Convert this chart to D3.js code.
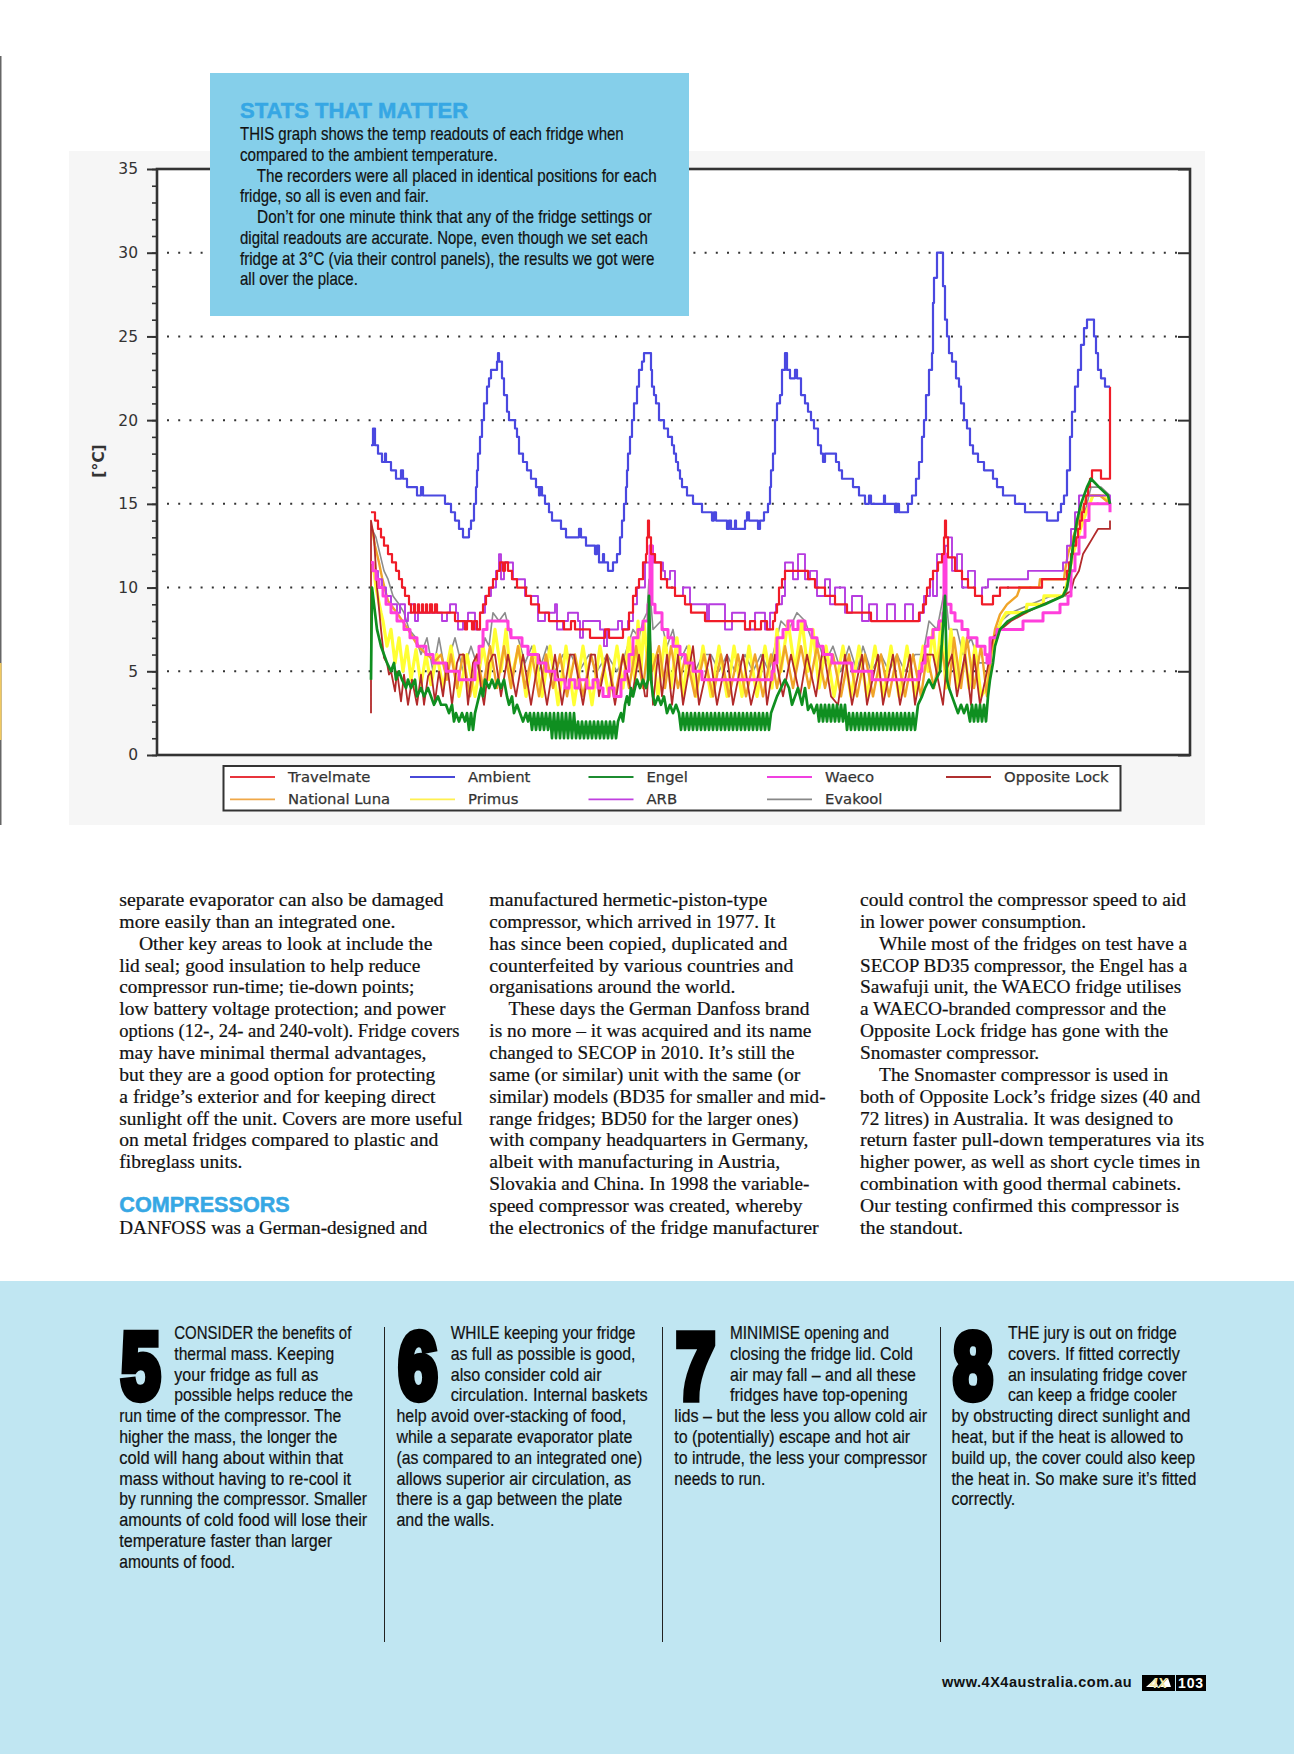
<!DOCTYPE html>
<html>
<head>
<meta charset="utf-8">
<script src="https://d3js.org/d3.v7.min.js"></script>
<style>
  html, body { margin: 0; padding: 0; background: #fff; }
  svg { display: block; }
</style>
</head>
<body>
<svg id="page" width="1294" height="1754"></svg>
<script>
// readings, [sample, deg C]
const ambient = [[0,18.5],[2,19.5],[4,18.5],[7,18],[11,17.5],[14,18],[15,17.5],[20,17],[25,16.5],[30,17],[32,16.5],[36,16],[44,16],[46,15.5],[50,16],[52,15.5],[74,15],[80,14.5],[84,14],[88,13.5],[92,13],[98,13.5],[100,14],[103,15],[105,16],[106,17],[107,18],[109,19],[111,20],[113,21],[116,22],[118,22.5],[120,23],[126,23.5],[127,24],[128,23.5],[131,22.5],[133,21.5],[136,20.5],[138,20],[144,19.5],[146,19],[148,18],[152,17.5],[156,17],[160,16.5],[165,16],[168,15.5],[169,16],[171,15.5],[174,15],[178,14.5],[181,14],[190,13.5],[195,13],[204,13],[208,13.5],[210,13],[215,12.5],[224,12],[226,12.5],[228,11.5],[232,12],[233,11.5],[237,11],[241,11],[242,11.5],[246,12],[249,13],[251,14],[253,15],[255,16],[256,17],[257,18],[259,19],[261,20],[263,21],[266,22],[268,23],[271,23.5],[273,24],[280,23],[281,22],[283,21.5],[285,21],[288,20],[293,19.5],[297,19],[301,18.5],[303,18],[305,17.5],[307,17],[309,16.5],[311,16],[316,15.5],[322,15],[331,14.5],[341,14],[343,14.5],[345,14],[356,13.5],[358,14],[360,13.5],[364,14],[365,13.5],[370,13.5],[374,14],[376,14.5],[378,14],[387,13.5],[389,14],[393,14.5],[397,15],[399,16],[400,17],[402,18],[404,20],[406,21],[409,21.5],[411,23],[414,24],[416,23],[419,22.5],[422,22.5],[424,23],[426,22.5],[430,21.5],[434,21],[437,20.5],[440,20],[443,19.5],[447,18.5],[450,18],[452,17.5],[454,18],[465,17.5],[468,17],[471,16.5],[476,16.5],[482,16],[488,15.5],[491,15.5],[494,15],[498,15.5],[500,15],[513,15.5],[514,15],[524,14.5],[526,15],[528,14.5],[537,15],[541,15.5],[545,16.5],[548,17.5],[551,19],[553,20],[555,21.5],[558,23],[561,24],[562,27],[563,28.5],[566,30],[572,28],[574,26],[576,25],[578,24],[581,23.5],[585,22.5],[588,22],[590,21],[593,20],[596,19.5],[599,18.5],[602,18],[607,17.5],[613,17],[622,16.5],[626,16],[632,15.5],[644,15],[654,14.5],[676,14],[687,14.5],[690,15],[693,15.5],[696,17],[699,19],[701,20.5],[704,22],[707,23],[710,24.5],[713,25.5],[716,26],[723,25],[725,24],[727,23],[730,22.5],[734,22],[739,22]];

const travelmate = [[0,14.5],[4,14],[7,13.5],[10,13],[13,12.5],[17,12],[21,11.5],[25,11],[28,10.5],[31,10],[34,9.5],[38,9],[40,8.5],[43,9],[44,8.5],[47,9],[48,8.5],[51,9],[52,8.5],[55,9],[56,8.5],[59,9],[61,8.5],[64,9],[66,8.5],[84,8],[94,7.5],[96,8],[101,7.5],[103,8],[106,7.5],[109,8.5],[112,9],[115,9.5],[118,10],[122,10.5],[126,11],[129,11.5],[132,11],[134,11.5],[137,11],[141,10.5],[146,10],[155,9.5],[160,9],[168,8.5],[178,8],[193,7.5],[200,8],[204,7.5],[219,7],[234,7.5],[238,7],[252,7.5],[258,8.5],[262,9.5],[265,10],[268,10.5],[272,11.5],[275,12],[276,13],[277,14],[278,13],[280,12],[284,11.5],[290,10.5],[296,10],[304,9.5],[314,9],[320,8.5],[334,8],[374,7.5],[379,8],[384,7.5],[390,8],[396,7.5],[402,8],[404,8.5],[406,9],[408,10],[411,10.5],[414,11],[434,11],[437,10.5],[444,10],[454,9.5],[464,9],[476,8.5],[500,8],[548,8.5],[552,9],[555,9.5],[556,10],[559,10.5],[562,11],[567,11.5],[571,12],[573,13],[574,14],[575,13],[577,11.8],[584,11],[591,10.5],[597,10],[604,9.5],[611,9],[622,9.5],[629,10],[671,10.5],[692,10.5],[696,11],[698,11.5],[700,12],[702,12.5],[705,13],[707,13.5],[709,14],[711,14.5],[713,15],[715,15.5],[717,16],[719,16.5],[721,17],[730,16.5],[739,16.5],[739,22]];

const arb = [[4,11],[7,10.5],[11,10],[15,9.5],[20,9],[26,8.5],[29,9],[34,8],[37,8.5],[40,9],[44,8],[47,8.5],[71,8],[76,8.5],[79,9],[85,8.5],[87,7.5],[92,8],[97,8.5],[104,7.5],[109,8.5],[114,9.5],[120,10],[125,11],[128,12],[130,10.5],[133,11.5],[142,10.5],[149,10.5],[154,9.5],[161,9.5],[167,8],[174,8.5],[184,9],[186,7.5],[192,8],[197,8.5],[207,8],[209,7],[212,8],[229,7.5],[233,6.5],[236,7.5],[247,8],[251,7.5],[257,8],[262,9],[266,10],[274,11.5],[280,12.5],[282,11.5],[292,11],[294,10.5],[299,11],[304,9.5],[312,10],[319,9],[336,8],[338,9],[354,7.5],[361,8.5],[374,7.5],[384,8.5],[394,7.5],[399,8.5],[405,9],[411,9.5],[414,11.5],[422,10.5],[427,12],[434,10.5],[439,11],[446,9.5],[454,10.5],[459,9],[464,10],[474,8.5],[481,9.5],[491,8],[498,9],[506,8],[516,9],[524,8],[534,9],[542,8],[549,8.5],[553,9.5],[559,10.5],[562,9.5],[566,12],[574,12.5],[577,13],[581,11],[586,12],[591,10],[597,11],[604,9.5],[611,10],[617,10.5],[657,11],[692,11.5],[696,12.5],[700,13.5],[704,14.5],[708,15.5],[718,15.5],[739,15]];

const waeco = [[0,11.5],[2,11],[5,10.5],[8,10],[12,9.5],[15,9],[20,8.5],[26,8],[33,7.5],[39,7],[46,6.5],[55,6],[62,5.5],[75,5],[88,4.5],[104,5.5],[108,6.5],[112,7.5],[116,8],[137,7.5],[140,7],[151,6.5],[157,6],[167,5.5],[175,5],[184,4.5],[194,4],[198,4.5],[204,4],[208,4.5],[216,4],[222,4.5],[227,4],[232,3.5],[238,4],[243,3.5],[250,4.5],[254,5],[258,6],[262,7],[267,7.5],[272,8],[277,9],[279,12.5],[281,9],[284,8.5],[291,7.5],[297,7],[302,6.5],[309,6],[314,5.5],[322,5],[331,4.5],[401,5],[403,5.5],[406,7],[412,7.5],[417,8],[422,7.5],[427,8],[434,7.5],[441,7],[446,6.5],[452,6],[461,5.5],[481,5],[501,4.5],[548,5],[551,5.5],[554,6.5],[557,7],[562,7.5],[568,8],[572,8.5],[573,12],[575,9],[580,8.5],[584,8],[591,7.5],[597,7],[606,6.5],[614,6],[616,5.5],[619,7],[626,7.5],[652,8],[672,8.5],[689,9],[697,9.5],[700,11],[704,12],[708,13],[714,14],[718,15],[736,15],[739,14.5]];

const engel = [[0,4.5],[1,10],[2,9.5],[4,8.5],[6,7.5],[8,7],[10,6.5],[13,6],[16,5.5],[20,5],[23,5.5],[25,4.5],[28,5],[31,4.5],[35,4],[37,4.5],[40,4],[44,4.5],[46,3.5],[50,4],[53,3.5],[57,4],[60,3.5],[63,3],[67,3.5],[70,3],[75,3],[78,2.5],[81,3],[83,2],[85,2.5],[88,2],[91,2.5],[94,2],[96,2.5],[98,1.5],[100,2.5],[102,1.5],[104,2.5],[106,3],[108,3.5],[110,4],[112,3.5],[114,4.5],[118,4],[121,4.5],[124,4],[127,4.5],[130,4],[133,4.5],[136,3.5],[138,3],[141,3.5],[143,2.5],[146,3],[149,2.5],[152,2],[155,2.5],[157,2],[159,2.5],[161,1.5],[163,2.5],[165,1.5],[167,2.5],[169,1.5],[171,2.5],[173,1.5],[175,2.5],[177,1.5],[179,2.5],[181,1],[183,2.5],[185,1],[187,2.5],[189,1],[191,2.5],[193,1],[195,2.5],[197,1],[199,2.5],[201,1],[203,2.5],[205,1],[207,2],[209,1],[211,2],[213,1],[215,2],[217,1],[219,2],[221,1],[223,2],[225,1],[227,2],[229,1],[231,2],[233,1],[235,2],[237,1],[239,2],[241,1],[243,2],[245,1],[247,2],[250,2.5],[252,2],[254,3],[256,3.5],[258,3],[260,4],[262,3.5],[264,4],[266,4.5],[269,4],[272,4.5],[275,4],[277,4.5],[278,9.5],[280,4.5],[282,3.5],[284,3],[287,3.5],[290,3],[293,3.5],[296,2.5],[299,3],[302,2.5],[305,3],[308,2.5],[310,1.5],[312,2.5],[314,1.5],[316,2.5],[318,1.5],[320,2.5],[322,1.5],[324,2.5],[326,1.5],[328,2.5],[330,1.5],[332,2.5],[334,1.5],[336,2.5],[338,1.5],[340,2.5],[342,1.5],[344,2.5],[346,1.5],[348,2.5],[350,1.5],[352,2.5],[354,1.5],[356,2.5],[358,1.5],[360,2.5],[362,1.5],[364,2.5],[366,1.5],[368,2.5],[370,1.5],[372,2.5],[374,1.5],[376,2.5],[378,1.5],[380,2.5],[382,1.5],[384,2.5],[386,1.5],[388,2.5],[390,1.5],[392,2.5],[394,1.5],[396,2.5],[398,1.5],[400,2.5],[403,3],[406,3.5],[410,4],[414,4.5],[418,4],[421,3],[424,3.5],[427,4],[431,3],[434,4],[437,2.7],[440,3],[443,2.5],[446,3],[448,2],[450,3],[452,2],[454,3],[456,2],[458,3],[460,2],[462,3],[464,2],[466,3],[468,2],[470,3],[472,2],[474,3],[476,1.5],[478,2.5],[480,1.5],[482,2.5],[484,1.5],[486,2.5],[488,1.5],[490,2.5],[492,1.5],[494,2.5],[496,1.5],[498,2.5],[500,1.5],[502,2.5],[504,1.5],[506,2.5],[508,1.5],[510,2.5],[512,1.5],[514,2.5],[516,1.5],[518,2.5],[520,1.5],[522,2.5],[524,1.5],[526,2.5],[528,1.5],[530,2.5],[532,1.5],[534,2.5],[536,1.5],[538,2.5],[540,1.5],[542,2.5],[544,1.5],[547,3],[551,3.5],[554,4],[558,4.5],[562,4],[565,4.5],[569,5],[574,9.5],[576,4.5],[578,4],[581,3.5],[584,3],[587,2.5],[590,3],[593,2.5],[596,3],[599,2],[601,3],[603,2],[605,3],[607,2],[609,3],[611,2],[613,3],[615,2],[617,3.5],[619,4.5],[622,5.5],[624,6.5],[629,7.5],[637,8],[652,8.5],[674,9],[692,9.5],[696,10],[699,11],[702,12.5],[706,14],[710,15],[716,16],[720,16.5],[728,16],[737,15.5],[739,15]];

const nationalLuna = [[1,13.5],[4,12.5],[8,11.5],[11,10.6],[17,9.2],[22,8.8],[27,8.4],[37,7.5],[47,6.5],[56,6],[64,5.6],[70,6],[76,4.5],[80,6],[86,4],[92,6],[99,3.5],[106,6],[112,4],[119,6.5],[126,4],[133,6.5],[140,4],[147,6.5],[154,4],[161,6],[168,3.5],[175,6],[182,4],[189,6],[196,3.5],[204,6],[212,3.5],[220,6],[228,4],[236,6],[244,3.5],[252,6],[258,4],[265,6.5],[272,4],[277,6.5],[281,5],[288,6.5],[294,4],[300,6.5],[307,4],[315,6],[324,3.5],[333,6],[342,3.5],[350,6],[358,3.5],[367,6],[375,3.5],[384,6],[392,3.5],[400,6],[406,4],[414,6.5],[422,4],[430,6.5],[438,4],[446,6.5],[454,4],[462,6],[470,3.5],[478,6],[486,3.5],[494,6],[502,3.5],[510,6],[518,3.5],[526,6],[534,3.5],[542,6],[550,3.5],[556,6],[563,4],[570,6.5],[578,4],[583,7],[590,4],[596,7],[603,4],[610,6.5],[616,3.5],[620,6],[624,7.5],[629,8.4],[636,9],[646,9.5],[649,10],[668,10],[669,10.5],[693,10.5],[694,11],[697,12],[702,13],[708,14],[716,15.5],[729,15.5],[739,15]];

const primus = [[2,11.5],[5,10],[10,8.5],[12,8],[16,6.5],[20,7.5],[24,5.5],[28,7],[32,5],[36,6.5],[40,4.5],[45,6.3],[50,4.2],[55,6],[60,4.2],[66,6],[72,4],[80,6.5],[88,3.5],[96,6],[104,3.5],[112,6.5],[118,4.5],[124,7.5],[130,5],[135,7.5],[140,4.5],[148,6.5],[155,3.5],[163,6.5],[171,3.5],[179,6.5],[187,3],[195,6.5],[203,3],[212,6.5],[221,3],[229,6.5],[238,3.5],[246,6.5],[252,4],[258,7],[264,4.5],[267,8],[270,5],[273,8],[278,4.5],[282,6],[287,3.5],[294,7],[300,4],[306,7],[312,3.5],[318,6.5],[325,3.5],[332,6.5],[340,3.5],[348,6.5],[356,3.5],[363,6.5],[371,3.5],[378,6.5],[386,3.5],[394,6.5],[401,4],[406,7.5],[410,5],[417,8],[424,5],[431,8],[437,5],[442,7.5],[448,4],[455,6.5],[463,3.5],[472,6.5],[480,3.5],[488,6.5],[496,3.5],[504,6.5],[512,3.5],[520,6.5],[528,3.5],[536,6.5],[544,3.5],[552,6.5],[557,5],[562,7.5],[566,5],[570,8],[575,4],[580,7.5],[586,4],[592,7],[598,4],[604,6.5],[610,3.5],[616,4],[620,6],[625,7],[630,8],[635,8.5],[655,8.5],[656,9],[672,9],[673,9.5],[692,9.5],[695,10],[702,12],[712,14],[722,15.5],[732,15.5],[739,15]];

const evakool = [[1,13.5],[5,13],[9,12],[13,11],[17,10.5],[22,9.5],[28,9],[33,8.5],[38,7.5],[45,7],[50,6],[56,7],[62,5],[68,7],[74,5],[84,7],[92,5],[100,6.5],[108,5],[114,7],[118,6.5],[122,8.5],[128,8],[134,8.5],[140,7],[147,7],[154,5.5],[161,6.5],[168,5],[176,6.5],[184,5],[192,6],[200,6],[208,5],[218,6],[226,5],[236,6],[246,5],[254,6],[262,7.5],[268,7],[272,8],[276,8.5],[278,10.5],[282,7.5],[290,8],[296,6.5],[302,7.5],[308,5.5],[316,6.5],[324,5],[332,6],[340,6],[348,5],[356,6],[364,5],[374,6],[382,5],[390,6],[398,5],[404,6.5],[410,8],[418,7.5],[426,8.5],[434,8],[440,7],[446,7],[454,5.5],[462,6.5],[470,5],[478,6.5],[486,5],[492,6.5],[500,5],[510,6],[518,5],[526,6],[534,5],[544,6],[552,6],[558,8],[566,7.5],[574,10],[578,7.5],[586,7.5],[592,6],[600,7],[608,5.5],[616,5.5],[622,7],[630,8],[640,8.5],[660,9],[680,9.5],[695,9.5],[702,12],[712,14],[720,16],[730,16],[739,15.5]];

const oppositeLock = [[0,2.5],[0,14],[3,13],[6,10],[10,7.5],[13,5.8],[16,5.5],[18,4.8],[20,5],[24,3.8],[26,5],[30,3.2],[33,4.8],[37,3],[41,4.5],[46,3],[50,4.8],[53,3],[57,4.7],[60,5],[64,3.2],[68,5],[72,3.5],[76,5.5],[81,3],[86,5.5],[89,6],[93,6],[97,3],[102,5.5],[106,6],[110,4],[113,3],[118,5.5],[122,6],[124,6],[130,3.5],[137,6],[145,3.5],[152,6],[160,3],[168,6],[176,3],[184,6],[191,3],[199,6],[203,6],[212,3],[220,6],[224,6],[228,3.5],[236,6],[244,3],[252,6],[261,3.5],[268,6],[274,3.5],[276,3.5],[279,7],[282,3],[287,6],[291,3.5],[296,6],[301,3],[307,6],[312,3],[322,6.5],[328,3],[339,6],[346,3],[356,6],[362,3],[372,6],[380,3],[392,6],[396,3],[404,6],[412,3.5],[420,6],[429,3.5],[436,6],[445,3.5],[452,6.5],[460,3.5],[467,3],[474,6],[481,3],[491,6],[496,3],[507,6],[512,3],[522,6],[529,3],[539,6],[544,3],[553,6],[562,6],[572,3],[575,5],[581,6],[586,3.5],[594,6],[600,3],[603,6],[609,3],[616,5],[622,7],[630,7.5],[640,8],[655,8.5],[672,9],[692,9.5],[700,9.8],[703,10.5],[708,11],[712,12],[717,12.5],[722,13],[727,13.5],[739,13.5],[739,14]];

const tempTicks = [0, 5, 10, 15, 20, 25, 30, 35];

// drawn bottom to top, step=true for the flat logger steps
const seriesList = [
  { name: "Evakool", data: evakool, color: "#8c8c8c", w: 1.6, step: false },
  { name: "Primus", data: primus, color: "#ffff33", w: 3.2, step: false },
  { name: "National Luna", data: nationalLuna, color: "#f0a428", w: 2.4, step: false },
  { name: "Opposite Lock", data: oppositeLock, color: "#b22a2a", w: 1.8, step: false },
  { name: "ARB", data: arb, color: "#b63ce0", w: 1.9, step: true },
  { name: "Waeco", data: waeco, color: "#ff3fdc", w: 3, step: true },
  { name: "Travelmate", data: travelmate, color: "#f01c28", w: 2.2, step: true },
  { name: "Ambient", data: ambient, color: "#4a48e0", w: 2.2, step: true },
  { name: "Engel", data: engel, color: "#0f8f20", w: 2.7, step: false }
];

const legendRows = [
  [["Travelmate", "#e8343c"], ["Ambient", "#4848d8"], ["Engel", "#1c8c30"], ["Waeco", "#f040e0"], ["Opposite Lock", "#b03030"]],
  [["National Luna", "#f0a848"], ["Primus", "#fff050"], ["ARB", "#c040e0"], ["Evakool", "#888888"]]
];

const statsTitle = "STATS THAT MATTER";
const statsLines = [
  "THIS graph shows the temp readouts of each fridge when",
  "compared to the ambient temperature.",
  "    The recorders were all placed in identical positions for each",
  "fridge, so all is even and fair.",
  "    Don\u2019t for one minute think that any of the fridge settings or",
  "digital readouts are accurate. Nope, even though we set each",
  "fridge at 3\u00b0C (via their control panels), the results we got were",
  "all over the place."
];
const statsWidths = [384, 258, 417, 189, 412, 408, 415, 118];

const bodyCol1 = ["separate evaporator can also be damaged", "more easily than an integrated one.", "    Other key areas to look at include the", "lid seal; good insulation to help reduce", "compressor run-time; tie-down points;", "low battery voltage protection; and power", "options (12-, 24- and 240-volt). Fridge covers", "may have minimal thermal advantages,", "but they are a good option for protecting", "a fridge\u2019s exterior and for keeping direct", "sunlight off the unit. Covers are more useful", "on metal fridges compared to plastic and", "fibreglass units."];
const bodyCol1Widths = [324, 276, 313, 301, 295, 326, 340, 307, 316, 316, 343, 319, 123];
const bodyCol2 = ["manufactured hermetic-piston-type", "compressor, which arrived in 1977. It", "has since been copied, duplicated and", "counterfeited by various countries and", "organisations around the world.", "    These days the German Danfoss brand", "is no more \u2013 it was acquired and its name", "changed to SECOP in 2010. It\u2019s still the", "same (or similar) unit with the same (or", "similar) models (BD35 for smaller and mid-", "range fridges; BD50 for the larger ones)", "with company headquarters in Germany,", "albeit with manufacturing in Austria,", "Slovakia and China. In 1998 the variable-", "speed compressor was created, whereby", "the electronics of the fridge manufacturer"];
const bodyCol2Widths = [278, 286, 298, 304, 246, 320, 322, 305, 311, 336, 309, 319, 291, 320, 313, 329];
const bodyCol3 = ["could control the compressor speed to aid", "in lower power consumption.", "    While most of the fridges on test have a", "SECOP BD35 compressor, the Engel has a", "Sawafuji unit, the WAECO fridge utilises", "a WAECO-branded compressor and the", "Opposite Lock fridge has gone with the", "Snomaster compressor.", "    The Snomaster compressor is used in", "both of Opposite Lock\u2019s fridge sizes (40 and", "72 litres) in Australia. It was designed to", "return faster pull-down temperatures via its", "higher power, as well as short cycle times in", "combination with good thermal cabinets.", "Our testing confirmed this compressor is", "the standout."];
const bodyCol3Widths = [326, 226, 327, 327, 321, 306, 308, 179, 308, 340, 313, 344, 340, 321, 319, 103];

const tips = [
  { num: "5", inset: ["CONSIDER the benefits of", "thermal mass. Keeping", "your fridge as full as", "possible helps reduce the"], insetW: [177, 160, 144, 179],
    full: ["run time of the compressor. The", "higher the mass, the longer the", "cold will hang about within that", "mass without having to re-cool it", "by running the compressor. Smaller", "amounts of cold food will lose their", "temperature faster than larger", "amounts of food."], fullW: [222, 218, 224, 232, 248, 248, 213, 116] },
  { num: "6", inset: ["WHILE keeping your fridge", "as full as possible is good,", "also consider cold air", "circulation. Internal baskets"], insetW: [185, 185, 151, 197],
    full: ["help avoid over-stacking of food,", "while a separate evaporator plate", "(as compared to an integrated one)", "allows superior air circulation, as", "there is a gap between the plate", "and the walls."], fullW: [230, 236, 246, 235, 226, 98] },
  { num: "7", inset: ["MINIMISE opening and", "closing the fridge lid. Cold", "air may fall \u2013 and all these", "fridges have top-opening"], insetW: [159, 183, 186, 178],
    full: ["lids \u2013 but the less you allow cold air", "to (potentially) escape and hot air", "to intrude, the less your compressor", "needs to run."], fullW: [253, 236, 253, 91] },
  { num: "8", inset: ["THE jury is out on fridge", "covers. If fitted correctly", "an insulating fridge cover", "can keep a fridge cooler"], insetW: [169, 172, 179, 169],
    full: ["by obstructing direct sunlight and", "heat, but if the heat is allowed to", "build up, the cover could also keep", "the heat in. So make sure it\u2019s fitted", "correctly."], fullW: [239, 232, 244, 245, 64] }
];

const svg = d3.select("#page");
const NARROW = "'Liberation Sans Narrow','Liberation Sans',sans-serif";
const SERIF = "'Liberation Serif',serif";

// each line is squeezed to the width it has on the page, the magazine fonts are not installed
function textBlock(parent, lines, widths, x, y, dy, size, family) {
  const g = parent.append("g").attr("transform", `translate(${x},${y})`);
  g.selectAll("text").data(lines).enter().append("text")
    .attr("xml:space", "preserve")
    .style("white-space", "pre")
    .attr("font-family", family)
    .attr("font-size", size)
    .attr("fill", "#111")
    .attr("stroke", "#111")
    .attr("stroke-width", 0.2)
    .text(d => d)
    .attr("transform", function(d, i) {
      return `translate(0,${i * dy}) scale(${widths[i] / this.getComputedTextLength()},1)`;
    });
  return g;
}

// left page edge, bleed from the facing page
svg.append("rect").attr("x", 0).attr("y", 56).attr("width", 1.5).attr("height", 769).attr("fill", "#666");
svg.append("rect").attr("x", 0).attr("y", 663).attr("width", 1.5).attr("height", 77).attr("fill", "#f0c860");

// chart panel
const plot = { left: 157, right: 1190, top: 169, bottom: 755 };
svg.append("rect").attr("x", 69).attr("y", 151).attr("width", 1136).attr("height", 674).attr("fill", "#f6f6f6");
svg.append("rect").attr("x", plot.left).attr("y", plot.top)
  .attr("width", plot.right - plot.left).attr("height", plot.bottom - plot.top).attr("fill", "#fff");

const x = d3.scaleLinear().domain([-214, 819]).range([plot.left, plot.right]);
const y = d3.scaleLinear().domain([0, 35]).range([plot.bottom, plot.top]);

// dotted grid
svg.append("g").selectAll("line").data(tempTicks.filter(d => d > 0 && d < 35)).enter().append("line")
  .attr("x1", plot.left + 10).attr("x2", plot.right - 12)
  .attr("y1", d => y(d)).attr("y2", d => y(d))
  .attr("stroke", "#333").attr("stroke-width", 2).attr("stroke-dasharray", "2 9.2");

// series
const lineStep = d3.line().x(d => x(d[0])).y(d => y(d[1])).curve(d3.curveStepAfter);
const lineFlat = d3.line().x(d => x(d[0])).y(d => y(d[1]));
svg.append("g").attr("class", "series").style("filter", "blur(0.35px)")
  .selectAll("path").data(seriesList).enter().append("path")
  .attr("d", s => (s.step ? lineStep : lineFlat)(s.data))
  .attr("fill", "none")
  .attr("stroke", s => s.color)
  .attr("stroke-width", s => s.w)
  .attr("stroke-linejoin", "round");

// frame and axes
svg.append("rect").attr("x", plot.left).attr("y", plot.top)
  .attr("width", plot.right - plot.left).attr("height", plot.bottom - plot.top)
  .attr("fill", "none").attr("stroke", "#333").attr("stroke-width", 2.6);

const axisG = svg.append("g").attr("transform", `translate(${plot.left},0)`);
axisG.call(d3.axisLeft(y).tickValues(tempTicks).tickSize(10).tickPadding(9).tickFormat(d3.format("d")));
axisG.select(".domain").remove();
axisG.selectAll("line").attr("stroke", "#333").attr("stroke-width", 2);
axisG.selectAll("text").attr("font-family", "'DejaVu Sans',sans-serif").attr("font-size", 15.5).attr("fill", "#333");

svg.append("g").attr("transform", `translate(${plot.left},0)`)
  .call(d3.axisLeft(y).ticks(35).tickSize(5).tickFormat(""))
  .call(g => g.select(".domain").remove())
  .selectAll("line").attr("stroke", "#333").attr("stroke-width", 1.6);

svg.append("g").attr("transform", `translate(${plot.right},0)`)
  .call(d3.axisLeft(y).tickValues(tempTicks).tickSize(12).tickFormat(""))
  .call(g => g.select(".domain").remove())
  .selectAll("line").attr("stroke", "#333").attr("stroke-width", 2);

svg.append("text").attr("transform", "translate(104,461) rotate(-90)")
  .attr("text-anchor", "middle").attr("font-family", "'DejaVu Sans',sans-serif")
  .attr("font-weight", "bold").attr("font-size", 15.5).attr("fill", "#333").text("[\u00b0C]");

// legend
svg.append("rect").attr("x", 223.5).attr("y", 766).attr("width", 897).attr("height", 44.5)
  .attr("fill", "#fff").attr("stroke", "#333").attr("stroke-width", 2);
const legendCols = [230, 410, 588.5, 767, 946];
legendRows.forEach((row, r) => {
  const ly = 777 + r * 22.3;
  row.forEach((item, c) => {
    svg.append("line").attr("x1", legendCols[c]).attr("x2", legendCols[c] + 45)
      .attr("y1", ly).attr("y2", ly).attr("stroke", item[1]).attr("stroke-width", 1.8);
    svg.append("text").attr("x", legendCols[c] + 58).attr("y", ly + 5)
      .attr("font-family", "'DejaVu Sans',sans-serif").attr("font-size", 14.8).attr("fill", "#333")
      .attr("stroke", "#333").attr("stroke-width", 0.25).text(item[0]);
  });
});

// stats box sits over the chart
svg.append("rect").attr("x", 210).attr("y", 73).attr("width", 479).attr("height", 243).attr("fill", "#85cfea");
svg.append("text").attr("x", 240).attr("y", 118)
  .attr("font-family", "'Liberation Sans',sans-serif").attr("font-weight", "bold").attr("font-size", 22)
  .attr("fill", "#36a7e4").attr("stroke", "#36a7e4").attr("stroke-width", 0.5).text(statsTitle);
textBlock(svg, statsLines, statsWidths, 240, 140, 20.75, 18, NARROW);

// body copy
textBlock(svg, bodyCol1, bodyCol1Widths, 119.3, 906, 21.85, 17.8, SERIF);
textBlock(svg, bodyCol2, bodyCol2Widths, 489.3, 906, 21.85, 17.8, SERIF);
textBlock(svg, bodyCol3, bodyCol3Widths, 860, 906, 21.85, 17.8, SERIF);
svg.append("text").attr("x", 119.3).attr("y", 1212)
  .attr("font-family", "'Liberation Sans',sans-serif").attr("font-weight", "bold").attr("font-size", 21.6)
  .attr("fill", "#36a7e4").attr("stroke", "#36a7e4").attr("stroke-width", 0.5).text("COMPRESSORS");
textBlock(svg, ["DANFOSS was a German-designed and"], [308], 119.3, 1234, 21.85, 17.8, SERIF);

// tips band
svg.append("rect").attr("x", 0).attr("y", 1281).attr("width", 1294).attr("height", 473).attr("fill", "#c0e6f2");
const tipX = [119.3, 396.4, 674.3, 951.4];
const insetX = [174.3, 450.7, 730, 1007.9];
tips.forEach((tip, i) => {
  svg.append("text").attr("font-family", "'Liberation Sans',sans-serif").attr("font-weight", "bold")
    .attr("font-size", 100).attr("fill", "#000").attr("stroke", "#000").attr("stroke-width", 9)
    .attr("stroke-linejoin", "miter")
    .attr("transform", `translate(${tipX[i] + 2},1398) scale(0.7,0.93)`).text(tip.num);
  textBlock(svg, tip.inset, tip.insetW, insetX[i], 1339, 20.8, 18, NARROW);
  textBlock(svg, tip.full, tip.fullW, tipX[i], 1339 + 4 * 20.8, 20.8, 18, NARROW);
});
[384, 662, 940].forEach(d => {
  svg.append("line").attr("x1", d + 0.5).attr("x2", d + 0.5).attr("y1", 1327).attr("y2", 1642)
    .attr("stroke", "#222").attr("stroke-width", 1);
});

// folio
svg.append("text").attr("x", 942).attr("y", 1687)
  .attr("font-family", "'Liberation Sans',sans-serif").attr("font-weight", "bold").attr("font-size", 14.5)
  .attr("letter-spacing", 0.55).attr("fill", "#111").text("www.4X4australia.com.au");
svg.append("rect").attr("x", 1142).attr("y", 1675).attr("width", 33).attr("height", 16).attr("fill", "#000");
svg.append("rect").attr("x", 1176).attr("y", 1675).attr("width", 30).attr("height", 16).attr("fill", "#000");
svg.append("path").attr("d", "M1146 1687 L1155 1679 L1158 1687 Z M1160 1687 L1168 1678 L1171 1687 Z").attr("fill", "#fff");
svg.append("text").attr("x", 1158.5).attr("y", 1688).attr("text-anchor", "middle")
  .attr("font-family", "'Liberation Sans',sans-serif").attr("font-weight", "bold").attr("font-style", "italic")
  .attr("font-size", 14).attr("fill", "#f4e8a8").text("4X");
svg.append("text").attr("x", 1191).attr("y", 1688).attr("text-anchor", "middle")
  .attr("font-family", "'Liberation Sans',sans-serif").attr("font-weight", "bold")
  .attr("font-size", 14).attr("letter-spacing", 0.8).attr("fill", "#fff").text("103");
</script>
</body>
</html>
